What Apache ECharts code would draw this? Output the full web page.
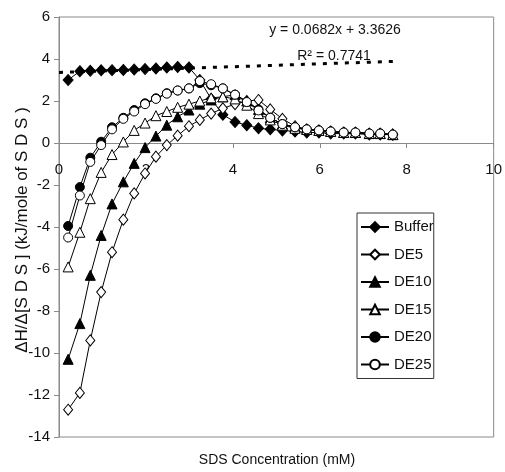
<!DOCTYPE html>
<html>
<head>
<meta charset="utf-8">
<script src="https://cdn.jsdelivr.net/npm/echarts@6/dist/echarts.min.js"></script>
<style>
html,body{margin:0;padding:0;background:#fff;}
#chart{width:505px;height:472px;}
</style>
</head>
<body>
<div id="chart"></div>
<script>
// SDS concentration (mM)
const concentration = [0.21,0.48,0.72,0.97,1.22,1.48,1.73,1.98,2.23,2.48,2.73,2.99,3.24,3.50,3.77,4.05,4.32,4.59,4.86,5.14,5.43,5.70,5.98,6.25,6.55,6.82,7.14,7.39,7.68];
const buffer = [3.0,3.42,3.44,3.46,3.47,3.48,3.5,3.52,3.55,3.6,3.62,3.6,3.0,2.1,1.35,1.0,0.85,0.7,0.65,0.6,0.55,0.5,0.5,0.45,0.45,0.45,0.4,0.4,0.4];
const de5 = [-12.7,-11.9,-9.4,-7.1,-5.2,-3.65,-2.4,-1.45,-0.65,-0.1,0.35,0.8,1.1,1.4,1.65,1.85,2.0,2.05,1.6,1.15,0.8,0.65,0.6,0.55,0.5,0.5,0.45,0.45,0.4];
const de10 = [-10.3,-8.6,-6.3,-4.4,-2.9,-1.85,-0.97,-0.22,0.33,0.85,1.25,1.57,1.85,2.05,2.2,2.3,2.0,1.6,1.2,0.9,0.75,0.65,0.6,0.55,0.5,0.5,0.45,0.45,0.4];
const de15 = [-5.9,-4.25,-2.65,-1.4,-0.55,0.05,0.6,0.95,1.3,1.5,1.7,1.85,2.0,2.15,2.2,2.1,1.8,1.4,1.1,0.85,0.7,0.65,0.6,0.55,0.5,0.5,0.45,0.45,0.4];
const de20 = [-3.95,-2.1,-0.7,0.06,0.75,1.2,1.57,1.89,2.13,2.37,2.5,2.6,2.85,2.75,2.6,2.3,1.95,1.6,1.2,0.9,0.75,0.65,0.6,0.55,0.5,0.5,0.45,0.45,0.4];
const de25 = [-4.5,-2.5,-0.9,-0.1,0.65,1.15,1.5,1.85,2.1,2.35,2.5,2.6,2.95,2.8,2.6,2.3,1.95,1.55,1.2,0.9,0.75,0.65,0.6,0.55,0.5,0.5,0.45,0.45,0.4];
// Buffer linear trendline (y = 0.0682x + 3.3626), end points
const trendX = [0, 7.75];
const trendY = [3.36, 3.89];
const seriesNames = ['Buffer','DE5','DE10','DE15','DE20','DE25'];
const xTicks = {min:0, max:10, interval:2};
const yTicks = {min:-14, max:6, interval:2};

const FONT = "'Liberation Sans',Arial,sans-serif";
const pairs = (ys) => concentration.map((x, i) => [x, ys[i]]);

function mk(name, ys, symbol, size, filled) {
  return {
    name: name, type: 'line', data: pairs(ys),
    symbol: symbol, symbolSize: size, showSymbol: true,
    lineStyle: {color: '#000', width: 1},
    itemStyle: {color: filled ? '#000' : '#fff', borderColor: '#000', borderWidth: 1},
    emphasis: {disabled: true}, z: 3
  };
}

const chart = echarts.init(document.getElementById('chart'), null, {renderer: 'canvas'});
chart.setOption({
  animation: false,
  backgroundColor: '#fff',
  textStyle: {fontFamily: FONT},
  grid: {left: 59, right: 6, top: 17, bottom: 35, show: true, borderColor: '#8a8a8a', borderWidth: 1, backgroundColor: 'transparent'},
  xAxis: {
    type: 'value', min: xTicks.min, max: xTicks.max, interval: xTicks.interval,
    position: 'bottom', offset: -294,
    axisLine: {show: true, onZero: false, lineStyle: {color: '#8a8a8a', width: 1}},
    axisTick: {show: true, length: 5, lineStyle: {color: '#8a8a8a'}},
    axisLabel: {margin: 19, color: '#111', fontSize: 15, fontFamily: FONT},
    splitLine: {show: false}
  },
  yAxis: {
    type: 'value', min: yTicks.min, max: yTicks.max, interval: yTicks.interval,
    axisLine: {show: true, onZero: false, lineStyle: {color: '#8a8a8a', width: 1}},
    axisTick: {show: true, length: 5, lineStyle: {color: '#8a8a8a'}},
    axisLabel: {margin: 9, color: '#111', fontSize: 15, fontFamily: FONT},
    splitLine: {show: false}
  },
  legend: {
    data: seriesNames, orient: 'vertical', left: 357, top: 213,
    itemWidth: 28, itemHeight: 12, itemGap: 12.5,
    padding: [6.5, 0, 6.5, 3],
    borderColor: '#333', borderWidth: 1, backgroundColor: '#fff',
    textStyle: {fontSize: 15, color: '#111', fontFamily: FONT},
    selectedMode: false
  },
  graphic: [
    {type: 'text', x: 335, y: 30, style: {text: 'y = 0.0682x + 3.3626', align: 'center', verticalAlign: 'middle', font: '14px ' + FONT, fill: '#111'}},
    {type: 'text', x: 334, y: 56, style: {text: 'R\u00b2 = 0.7741', align: 'center', verticalAlign: 'middle', font: '14px ' + FONT, fill: '#111'}},
    {type: 'text', x: 277, y: 460, style: {text: 'SDS Concentration (mM)', align: 'center', verticalAlign: 'middle', font: '14px ' + FONT, fill: '#111'}},
    {type: 'text', x: 22, y: 230, rotation: Math.PI / 2, style: {text: '\u0394H/\u0394[S D S ] (kJ/mole of S D S )', align: 'center', verticalAlign: 'middle', font: '17px ' + FONT, fill: '#111'}}
  ],
  series: [
    {name: 'trend', type: 'line', data: trendX.map((x, i) => [x, trendY[i]]), symbol: 'none',
     lineStyle: {color: '#000', width: 3, type: [4, 7], cap: 'butt'}, z: 2, emphasis: {disabled: true}},
    mk('Buffer', buffer, 'diamond', [10, 11], true),
    mk('DE5', de5, 'diamond', [9, 11], false),
    mk('DE10', de10, 'triangle', [10, 10], true),
    mk('DE15', de15, 'triangle', [10, 10], false),
    mk('DE20', de20, 'circle', 9, true),
    mk('DE25', de25, 'circle', 9, false)
  ]
});
</script>
</body>
</html>
